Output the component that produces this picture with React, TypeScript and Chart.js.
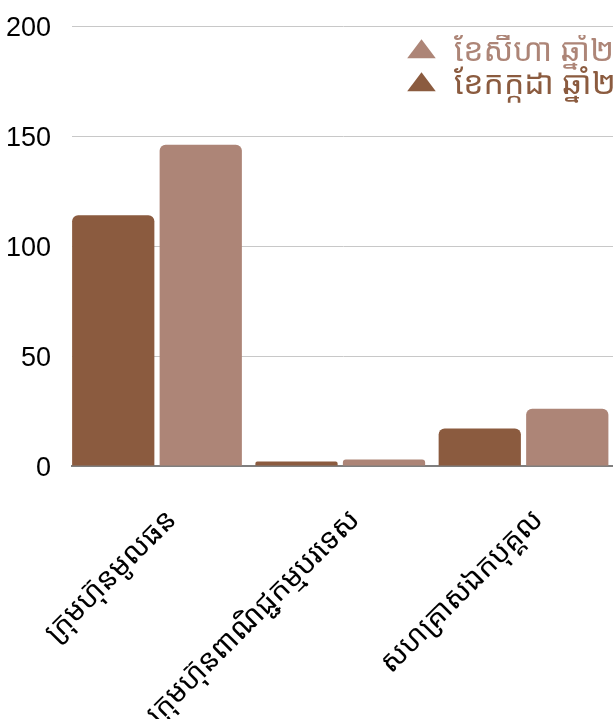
import React, { useEffect, useRef } from "react";
import { Chart, registerables } from "chart.js";

Chart.register(...registerables);

const categories = [
  "ក្រុមហ៊ុនមូលធន",
  "ក្រុមហ៊ុនពាណិជ្ជកម្មបរទេស",
  "សហគ្រាសឯកបុគ្គល",
];
const julyLabel = "ខែកក្កដា ឆ្នាំ២០២៣";
const augustLabel = "ខែសីហា ឆ្នាំ២០២៣";
const julyValues = [114, 2, 17];
const augustValues = [146, 3, 26];
const yTicks = [0, 50, 100, 150, 200];

const DARK = "#8B5B3F";
const LIGHT = "#AD8577";
const KHMER = "'Noto Sans Khmer', 'Khmer OS', 'Noto Sans', sans-serif";
const NUM = "'Liberation Sans', Arial, Helvetica, sans-serif";

const CANVAS_W = 640;
const CANVAS_H = 760;

// category axis window: slightly less space before the first group than a plain offset axis
const X_START = -0.4638;
const X_RANGE = 2.963;

const legendMover = {
  id: "legendMover",
  beforeDraw(chart: any) {
    const lg = chart.legend;
    if (!lg) return;
    const w = lg.width;
    const h = lg.height;
    lg.left = 404;
    lg.top = 35;
    lg.right = lg.left + w;
    lg.bottom = lg.top + h;
  },
};

export default function App() {
  const ref = useRef<HTMLCanvasElement>(null);

  useEffect(() => {
    const canvas = ref.current;
    if (!canvas) return;
    const chart = new Chart(canvas, {
      type: "bar",
      data: {
        labels: categories,
        datasets: [
          {
            label: julyLabel,
            data: julyValues,
            backgroundColor: DARK,
            borderColor: DARK,
            borderWidth: 0,
            borderRadius: 6,
            borderSkipped: "start",
            categoryPercentage: 0.955,
            barPercentage: 0.94,
          },
          {
            label: augustLabel,
            data: augustValues,
            backgroundColor: LIGHT,
            borderColor: LIGHT,
            borderWidth: 0,
            borderRadius: 6,
            borderSkipped: "start",
            categoryPercentage: 0.955,
            barPercentage: 0.94,
          },
        ],
      },
      options: {
        responsive: false,
        animation: false,
        devicePixelRatio: 1,
        layout: { padding: { top: 26, right: 25, left: 0, bottom: 0 } },
        plugins: {
          legend: {
            position: "chartArea",
            align: "start",
            reverse: true,
            labels: {
              usePointStyle: true,
              pointStyle: "triangle",
              pointStyleWidth: 33,
              boxHeight: 18,
              padding: 1,
              font: { family: KHMER, size: 32 },
              generateLabels: (c: any) =>
                Chart.defaults.plugins.legend.labels
                  .generateLabels(c)
                  .map((it: any) => ({
                    ...it,
                    pointStyle: "triangle",
                    fontColor: it.fillStyle,
                    strokeStyle: it.fillStyle,
                    lineWidth: 0,
                  })),
            },
          },
          tooltip: { enabled: false },
        },
        scales: {
          x: {
            grid: { display: false, drawTicks: false },
            border: { display: true, color: "#7f7f7f", width: 2 },
            ticks: {
              color: "#000",
              font: { family: KHMER, size: 29 },
              minRotation: 45,
              maxRotation: 45,
              autoSkip: false,
              padding: 37,
              labelOffset: 15,
            },
            afterBuildTicks: (s: any) => {
              s._startValue = X_START;
              s._valueRange = X_RANGE;
            },
            afterFit: (s: any) => {
              s.height = CANVAS_H - 466;
              s.paddingLeft = 0;
              s.paddingRight = 0;
            },
          },
          y: {
            min: 0,
            max: 200,
            grid: { color: "#c8c8c8", lineWidth: 1, drawTicks: false },
            border: { display: false },
            ticks: {
              color: "#000",
              font: { family: NUM, size: 27 },
              padding: 21,
              stepSize: 50,
              labelOffset: 3,
            },
            afterBuildTicks: (s: any) => {
              s.ticks = yTicks.map((v) => ({ value: v }));
            },
            afterFit: (s: any) => {
              s.width = 72;
              s.paddingTop = 0;
              s.paddingBottom = 0;
            },
          },
        },
      },
      plugins: [legendMover],
    } as any);
    return () => chart.destroy();
  }, []);

  return (
    <div
      style={{
        position: "fixed",
        left: 0,
        top: 0,
        width: "100vw",
        height: "100vh",
        overflow: "hidden",
        background: "#fff",
      }}
    >
      <canvas
        ref={ref}
        width={CANVAS_W}
        height={CANVAS_H}
        style={{ display: "block", width: CANVAS_W, height: CANVAS_H }}
      />
    </div>
  );
}
